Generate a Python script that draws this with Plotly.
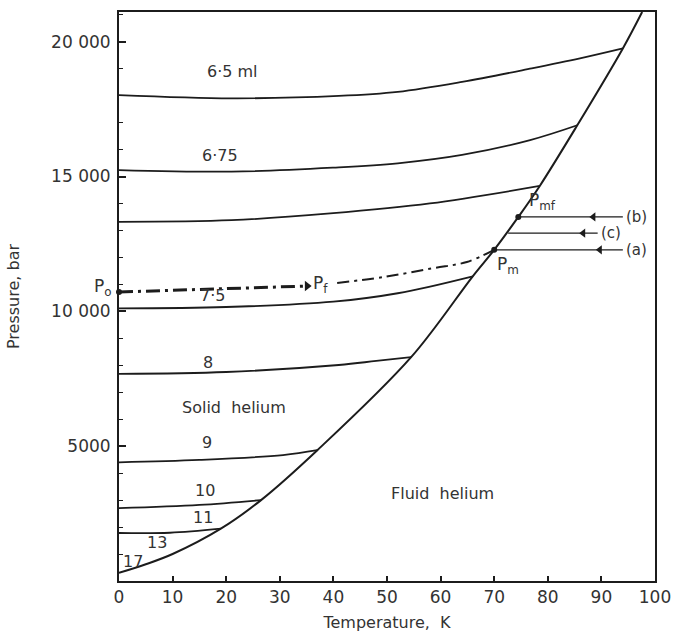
import plotly.graph_objects as go

# ---- data ----
melt_T = [0, 5, 10, 19, 26.5, 37, 54.5, 66, 70, 74.5, 78.5, 85.5, 94, 97.6]
melt_P = [300, 620, 1000, 1940, 3000, 4850, 8300, 11300, 12280, 13500, 14650, 16900, 19750, 21100]

iso65_T = [0, 21, 41, 52, 64, 77, 86, 94]
iso65_P = [18020, 17900, 17990, 18140, 18510, 19010, 19380, 19750]
iso675_T = [0, 21, 40, 52, 64, 76.7, 85.5]
iso675_P = [15240, 15180, 15330, 15490, 15800, 16350, 16900]
iso70_T = [0, 21, 39.4, 58, 78.5]
iso70_P = [13320, 13380, 13630, 14000, 14650]
iso75_T = [0, 20, 40, 52, 66]
iso75_P = [10110, 10160, 10360, 10670, 11300]
iso8_T = [0, 20, 41, 48, 54.5]
iso8_P = [7680, 7750, 8010, 8160, 8300]
iso9_T = [0, 15, 30.6, 37]
iso9_P = [4400, 4490, 4670, 4850]
iso10_T = [0, 15, 26.5]
iso10_P = [2700, 2820, 3000]
iso11_T = [0, 9.5, 19]
iso11_P = [1780, 1790, 1940]

path1_T = [0, 35.1]
path1_P = [10716, 10938]
path2_T = [40.7, 49.3, 58.6, 64.9, 70]
path2_P = [11050, 11270, 11600, 11830, 12280]

arrow_names = ["(b)", "(c)", "(a)"]
arrow_P = [13500, 12900, 12280]
arrow_T_start = [74.5, 72.6, 70]
arrow_T_end = [94, 89.3, 94]
arrow_head_T = [88.5, 86.6, 89.7]

point_T = [0, 70, 74.5]
point_P = [10716, 12280, 13500]

iso_labels = ["6·5 ml", "6·75", "7·5", "8", "9", "10", "11", "13", "17"]
iso_label_T = [21.1, 18.8, 17.4, 16.6, 16.4, 16.0, 15.7, 7.1, 2.6]
iso_label_P = [18910, 15795, 10600, 8120, 5120, 3340, 2340, 1446, 740]

region_labels = ["Solid  helium", "Fluid  helium"]
region_T = [21.5, 60.4]
region_P = [6450, 3260]

x_ticks = [0, 10, 20, 30, 40, 50, 60, 70, 80, 90, 100]
y_ticks = [5000, 10000, 15000, 20000]
y_tick_text = ["5000", "10 000", "15 000", "20 000"]

INK = "#1c1c1c"
TXT = "#333333"
FONT = "DejaVu Sans"

fig = go.Figure()

def line(x, y, width=1.8, dash="solid", shape="spline"):
    fig.add_trace(go.Scatter(x=x, y=y, mode="lines",
                             line=dict(color=INK, width=width, dash=dash, shape=shape),
                             hoverinfo="skip", showlegend=False))

line(melt_T, melt_P, width=2.0)
for tx, py in [(iso65_T, iso65_P), (iso675_T, iso675_P), (iso70_T, iso70_P),
               (iso75_T, iso75_P), (iso8_T, iso8_P), (iso9_T, iso9_P),
               (iso10_T, iso10_P), (iso11_T, iso11_P)]:
    line(tx, py)

# dash-dot compression path
line(path1_T, path1_P, width=3.0, dash="14px,5px,3px,5px", shape="linear")
line(path2_T, path2_P, width=2.0, dash="12px,5px,3px,5px")
fig.add_trace(go.Scatter(x=[path1_T[-1]], y=[path1_P[-1]], mode="markers",
                         marker=dict(symbol="triangle-right", size=9, color=INK),
                         hoverinfo="skip", showlegend=False))

# horizontal approach lines (a), (b), (c)
for i in range(len(arrow_P)):
    fig.add_trace(go.Scatter(x=[arrow_T_start[i], arrow_T_end[i]], y=[arrow_P[i], arrow_P[i]],
                             mode="lines", line=dict(color=INK, width=1.2),
                             hoverinfo="skip", showlegend=False))
fig.add_trace(go.Scatter(x=arrow_head_T, y=arrow_P, mode="markers",
                         marker=dict(symbol="triangle-left", size=8, color=INK),
                         hoverinfo="skip", showlegend=False))

fig.add_trace(go.Scatter(x=point_T, y=point_P, mode="markers",
                         marker=dict(symbol="circle", size=6, color=INK),
                         cliponaxis=False, hoverinfo="skip", showlegend=False))

ann = []
for t, x, y in zip(iso_labels, iso_label_T, iso_label_P):
    ann.append(dict(x=x, y=y, text=t, showarrow=False, font=dict(size=16, color=TXT)))
for t, x, y in zip(region_labels, region_T, region_P):
    ann.append(dict(x=x, y=y, text=t, showarrow=False, font=dict(size=16, color=TXT)))
for i, t in enumerate(arrow_names):
    ann.append(dict(x=arrow_T_end[i], y=arrow_P[i], text=t, showarrow=False,
                    xanchor="left", xshift=1, font=dict(size=15, color=TXT)))

ann.append(dict(x=point_T[0], y=point_P[0], text="P<sub>o</sub>", showarrow=False,
                xanchor="right", xshift=-5, yshift=5, font=dict(size=17, color=TXT)))
ann.append(dict(x=path1_T[-1], y=path1_P[-1], text="P<sub>f</sub>", showarrow=False,
                xanchor="left", xshift=4, yshift=2, font=dict(size=17, color=TXT)))
ann.append(dict(x=point_T[1], y=point_P[1], text="P<sub>m</sub>", showarrow=False,
                xanchor="left", yanchor="top", xshift=1, yshift=-2, font=dict(size=17, color=TXT)))
ann.append(dict(x=point_T[2], y=point_P[2], text="P<sub>mf</sub>", showarrow=False,
                xanchor="left", yanchor="bottom", xshift=9, yshift=2, font=dict(size=17, color=TXT)))

fig.update_layout(
    width=673, height=638,
    margin=dict(l=119, r=18, t=12, b=57, autoexpand=False),
    paper_bgcolor="white", plot_bgcolor="white",
    font=dict(family=FONT, color=TXT, size=16),
    annotations=ann,
    showlegend=False,
    hovermode=False,
)
fig.update_xaxes(range=[0, 100], tickvals=x_ticks, ticks="inside", ticklen=5, tickwidth=1.5,
                 tickcolor=INK, showline=True, linecolor=INK, linewidth=2, mirror=True,
                 showgrid=False, zeroline=False, tickfont=dict(size=17, color=TXT),
                 automargin=False,
                 title=dict(text="Temperature,  K", font=dict(size=16, color=TXT), standoff=10))
fig.update_yaxes(range=[0, 21100], tickvals=y_ticks, ticktext=y_tick_text, ticks="inside",
                 ticklen=7, tickwidth=1.5, tickcolor=INK, showline=True, linecolor=INK, linewidth=2,
                 mirror=True, showgrid=False, zeroline=False, tickfont=dict(size=17, color=TXT),
                 ticklabelstandoff=3, automargin=False,
                 minor=dict(dtick=1000, tick0=0, ticks="inside", ticklen=4, tickcolor=INK, tickwidth=1),
                 title=dict(text="Pressure, bar", font=dict(size=16, color=TXT), standoff=28))

fig.write_html("out.html", config={"displayModeBar": False},
               post_script="document.body.style.margin='0';document.body.style.overflow='hidden';")
